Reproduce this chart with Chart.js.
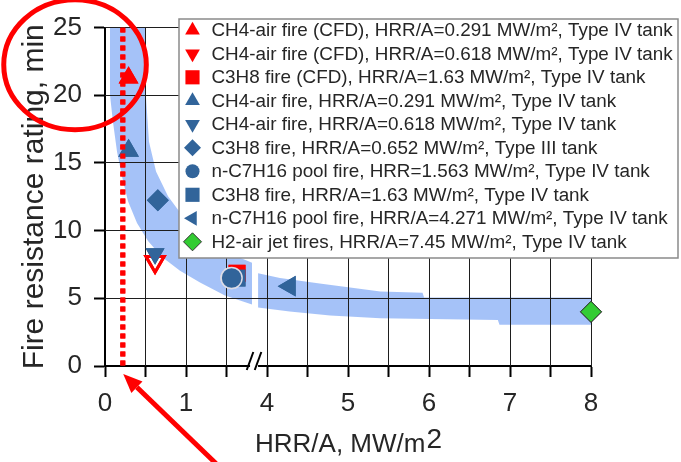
<!DOCTYPE html>
<html>
<head>
<meta charset="utf-8">
<script src="https://cdn.jsdelivr.net/npm/chart.js@4.4.1/dist/chart.umd.min.js"></script>
<style>
html,body{margin:0;padding:0;background:#ffffff;overflow:hidden}
canvas{display:block}
</style>
</head>
<body>
<canvas id="chart" width="681" height="462"></canvas>
<script>
// ---------------- data ----------------
const seriesLabels = [
  'CH4-air fire (CFD), HRR/A=0.291 MW/m\u00B2, Type IV tank',
  'CH4-air fire (CFD), HRR/A=0.618 MW/m\u00B2, Type IV tank',
  'C3H8 fire (CFD), HRR/A=1.63 MW/m\u00B2, Type IV tank',
  'CH4-air fire, HRR/A=0.291 MW/m\u00B2, Type IV tank',
  'CH4-air fire, HRR/A=0.618 MW/m\u00B2, Type IV tank',
  'C3H8 fire, HRR/A=0.652 MW/m\u00B2, Type III tank',
  'n-C7H16 pool fire, HRR=1.563 MW/m\u00B2, Type IV tank',
  'C3H8 fire, HRR/A=1.63 MW/m\u00B2, Type IV tank',
  'n-C7H16 pool fire, HRR/A=4.271 MW/m\u00B2, Type IV tank',
  'H2-air jet fires, HRR/A=7.45 MW/m\u00B2, Type IV tank'
];
const seriesX = [0.291, 0.618, 1.63, 0.291, 0.618, 0.652, 1.563, 1.63, 4.28, 8.0];
const seriesY = [21.3, 7.7, 6.85, 15.9, 8.3, 12.25, 6.5, 6.5, 5.9, 4.0];

const xTickValues = [0, 1, 4, 5, 6, 7, 8];
const yTickValues = [0, 5, 10, 15, 20, 25];
const limitLineX = [0.22, 0.22];
const limitLineY = [25, 0];

// shaded band (two pieces either side of the axis break)
const bandLeftOuterX = [0.062, 0.494, 0.506, 0.543, 0.630, 0.778, 0.988, 1.235, 1.519, 1.815];
const bandLeftOuterY = [25, 25, 19.87, 16.57, 14.37, 12.54, 10.85, 9.46, 8.36, 7.62];
const bandLeftInnerX = [0.062, 0.099, 0.148, 0.210, 0.284, 0.395, 0.531, 0.704, 0.926, 1.173, 1.481, 1.815];
const bandLeftInnerY = [20.0, 18.0, 15.84, 14.0, 12.17, 10.56, 9.24, 8.06, 7.04, 6.16, 5.21, 4.55];
const bandRightOuterX = [3.89, 4.16, 4.65, 5.40, 5.92, 5.94, 8.0];
const bandRightOuterY = [6.85, 6.50, 6.10, 5.50, 5.42, 5.06, 5.06];
const bandRightInnerX = [3.89, 4.28, 4.78, 5.40, 6.85, 6.87, 8.0];
const bandRightInnerY = [4.33, 4.03, 3.74, 3.52, 3.40, 3.05, 3.05];

// ---------------- styling ----------------
const FONT = '"Liberation Sans", Arial, Helvetica, sans-serif';
const TEXT = '#262626';
const GRID = '#1e1e1e';
const RED = '#ff0000', BLUE = '#31649a', GREEN = '#33cc33';
const seriesStyle = [
  {shape: 'triangle', rot: 0,   fill: RED,   border: RED,   bw: 0,   r: 11.5, order: 3, lr: 8.5, lbw: 0},
  {shape: 'triangle', rot: 180, fill: 'rgba(255,255,255,0)', border: RED, bw: 3, r: 10.5, order: 3, lr: 8.5, lfill: RED, lbw: 0},
  {shape: 'rect',     rot: 0,   fill: RED,   border: RED,   bw: 0,   r: 12,   order: 3, lr: 10, lbw: 0},
  {shape: 'triangle', rot: 0,   fill: BLUE,  border: BLUE,  bw: 0,   r: 12,   order: 2, lr: 8.5, lbw: 0},
  {shape: 'triangle', rot: 180, fill: BLUE,  border: BLUE,  bw: 0,   r: 11,   order: 2, lr: 8.5, lbw: 0},
  {shape: 'rectRot',  rot: 0,   fill: BLUE,  border: BLUE,  bw: 0,   r: 11,   order: 2, lr: 8.5, lbw: 0},
  {shape: 'circle',   rot: 0,   fill: BLUE,  border: '#dcdce6', bw: 1.5, r: 10.5, order: 1, lr: 7, lbw: 0},
  {shape: 'rect',     rot: 0,   fill: BLUE,  border: BLUE,  bw: 0,   r: 12,   order: 2, lr: 10, lbw: 0},
  {shape: 'triangle', rot: -90, fill: BLUE,  border: BLUE,  bw: 0,   r: 12,   order: 2, lr: 8.5, lbw: 0},
  {shape: 'rectRot',  rot: 0,   fill: GREEN, border: '#333333', bw: 1, r: 10.5, order: 2, lr: 9, lbw: 1}
];

// broken x axis: real value -> axis position
const toAxis = v => (v < 3 ? v : v - 2);
const axisBreakAt = 1.84;

function polygon(ox, oy, ix, iy) {
  const pts = ox.map((x, i) => ({x: toAxis(x), y: oy[i]}));
  for (let i = ix.length - 1; i >= 0; i--) pts.push({x: toAxis(ix[i]), y: iy[i]});
  return pts;
}

const datasets = [];
datasets.push({
  type: 'line', label: 'limit', order: 0, clip: false,
  data: limitLineX.map((x, i) => ({x: toAxis(x), y: limitLineY[i]})),
  borderColor: RED, borderWidth: 5, borderDash: [5, 4], borderCapStyle: 'butt',
  pointRadius: 0, fill: false, tension: 0
});
seriesLabels.forEach((lab, i) => {
  const s = seriesStyle[i];
  datasets.push({
    type: 'scatter', label: lab, order: s.order, clip: false,
    data: [{x: toAxis(seriesX[i]), y: seriesY[i]}],
    pointStyle: s.shape, pointRotation: s.rot, pointRadius: s.r,
    backgroundColor: s.fill, borderColor: s.border, borderWidth: s.bw
  });
});
[[bandLeftOuterX, bandLeftOuterY, bandLeftInnerX, bandLeftInnerY],
 [bandRightOuterX, bandRightOuterY, bandRightInnerX, bandRightInnerY]].forEach((b, k) => {
  datasets.push({
    type: 'line', label: 'band' + k, order: 10,
    data: polygon(b[0], b[1], b[2], b[3]),
    borderWidth: 0, borderColor: 'rgba(0,0,0,0)', pointRadius: 0, tension: 0,
    fill: 'shape', backgroundColor: 'rgba(66,128,240,0.48)'
  });
});

function drawMarker(ctx, style, x, y, r, fill, border, bw) {
  ctx.save();
  ctx.fillStyle = fill; ctx.strokeStyle = border;
  if (bw > 0) ctx.lineWidth = bw;
  if (Chart.helpers && Chart.helpers.drawPoint) {
    Chart.helpers.drawPoint(ctx, {pointStyle: style.shape, rotation: style.rot, radius: r, borderWidth: bw}, x, y);
  }
  ctx.restore();
}

const decorPlugin = {
  id: 'decor',
  afterDatasetsDraw(chart) {
    // grid lines from the scales' own ticks (over the translucent band)
    const ctx = chart.ctx, xs = chart.scales.x, ys = chart.scales.y, ca = chart.chartArea;
    ctx.save();
    ctx.strokeStyle = GRID; ctx.lineWidth = 1;
    ctx.beginPath();
    xs.ticks.forEach(t => {
      if (t.value <= 0) return;
      const p = Math.round(xs.getPixelForValue(t.value) - 0.5) + 0.5;
      ctx.moveTo(p, ca.top); ctx.lineTo(p, ca.bottom);
    });
    ys.ticks.forEach(t => {
      if (t.value <= 0) return;
      const p = Math.round(ys.getPixelForValue(t.value) - 0.5) + 0.5;
      ctx.moveTo(ca.left, p); ctx.lineTo(ca.right, p);
    });
    ctx.stroke();
    ctx.restore();
    // markers and limit line back on top of the grid
    const metas = chart.getSortedVisibleDatasetMetas()
      .filter(m => !String(chart.data.datasets[m.index].label).startsWith('band'));
    for (let i = metas.length - 1; i >= 0; i--) metas[i].controller.draw();
  },
  afterDraw(chart) {
    const ctx = chart.ctx, xs = chart.scales.x, ys = chart.scales.y, ca = chart.chartArea;
    ctx.save();
    // axis break mark
    const xb = xs.getPixelForValue(axisBreakAt), yb = ys.getPixelForValue(0);
    ctx.fillStyle = '#ffffff';
    ctx.fillRect(xb - 4, yb - 2, 8, 4);
    ctx.strokeStyle = '#000000'; ctx.lineWidth = 2;
    [-4, 4].forEach(d => {
      ctx.beginPath(); ctx.moveTo(xb + d - 3.3, yb + 4); ctx.lineTo(xb + d + 3.3, yb - 14); ctx.stroke();
    });

    // legend box
    const L = {left: 179, top: 19, right: 678, bottom: 258};
    ctx.fillStyle = '#ffffff';
    ctx.fillRect(L.left, L.top, L.right - L.left, L.bottom - L.top);
    ctx.strokeStyle = '#8a8a8a'; ctx.lineWidth = 1.5;
    ctx.strokeRect(L.left, L.top, L.right - L.left, L.bottom - L.top);
    ctx.textBaseline = 'middle'; ctx.textAlign = 'left';
    seriesLabels.forEach((lab, i) => {
      const s = seriesStyle[i];
      const y = L.top + 11.3 + i * 23.5;
      drawMarker(ctx, s, L.left + 13.5, y, s.lr, s.lfill || s.fill, s.border, s.lbw);
      ctx.font = '18.85px ' + FONT;
      ctx.fillStyle = TEXT;
      ctx.fillText(lab, L.left + 32.5, y + 0.5);
    });

    // x axis title with raised "2"
    ctx.fillStyle = TEXT;
    ctx.textBaseline = 'alphabetic';
    ctx.font = '26px ' + FONT;
    const t1 = 'HRR/A, MW/m';
    const w1 = ctx.measureText(t1).width;
    ctx.font = '28px ' + FONT;
    const w2 = ctx.measureText('2').width;
    const x0 = (ca.left + ca.right) / 2 - (w1 + w2) / 2;
    ctx.font = '26px ' + FONT;
    ctx.fillText(t1, x0, 452);
    ctx.font = '28px ' + FONT;
    ctx.fillText('2', x0 + w1 + 1, 448);

    // red annotations: ellipse around y label, arrow to limit line
    ctx.strokeStyle = RED; ctx.fillStyle = RED; ctx.lineWidth = 5;
    const ecx = xs.getPixelForValue(-0.37), ecy = ys.getPixelForValue(22.25);
    const erx = xs.getPixelForValue(0.88) - xs.getPixelForValue(0);
    const ery = ys.getPixelForValue(0) - ys.getPixelForValue(4.8);
    ctx.beginPath(); ctx.ellipse(ecx, ecy, erx, ery, 0, 0, Math.PI * 2); ctx.stroke();

    const tx = xs.getPixelForValue(0.225), ty = ys.getPixelForValue(-0.6);
    const sx = xs.getPixelForValue(1.37), sy = ys.getPixelForValue(-7.2);
    const ang = Math.atan2(ty - sy, tx - sx);
    const hl = 19, hw = 8;
    const bx = tx - Math.cos(ang) * hl, by = ty - Math.sin(ang) * hl;
    ctx.beginPath(); ctx.moveTo(sx, sy); ctx.lineTo(bx, by); ctx.stroke();
    ctx.beginPath();
    ctx.moveTo(tx, ty);
    ctx.lineTo(bx + Math.sin(ang) * hw, by - Math.cos(ang) * hw);
    ctx.lineTo(bx - Math.sin(ang) * hw, by + Math.cos(ang) * hw);
    ctx.closePath(); ctx.fill();
    ctx.restore();
  }
};

new Chart(document.getElementById('chart'), {
  type: 'scatter',
  data: {datasets},
  options: {
    responsive: false, animation: false, devicePixelRatio: 1, events: [],
    layout: {padding: {left: 0, top: 25, right: 90, bottom: 0}},
    plugins: {legend: {display: false}, tooltip: {enabled: false}},
    scales: {
      x: {
        type: 'linear', min: 0, max: 6,
        afterBuildTicks: s => { const t = []; for (let v = 0; v <= 6.0001; v += 0.5) t.push({value: v}); s.ticks = t; },
        ticks: {
          autoSkip: false, maxRotation: 0, minRotation: 0, padding: 11, color: TEXT,
          font: {size: 26, family: FONT},
          callback: v => {
            const k = xTickValues.findIndex(t => Math.abs(toAxis(t) - v) < 1e-6);
            return k >= 0 ? String(xTickValues[k]) : '';
          }
        },
        grid: {color: GRID, lineWidth: 1, tickLength: 11, tickWidth: 2, tickColor: '#000000'},
        border: {color: '#000000', width: 2},
        afterFit: s => { s.height = 96; }
      },
      y: {
        type: 'linear', min: 0, max: 25,
        afterBuildTicks: s => { s.ticks = yTickValues.map(v => ({value: v})); },
        ticks: {padding: 12, color: TEXT, font: {size: 26, family: FONT}},
        grid: {color: GRID, lineWidth: 1, tickLength: 11, tickWidth: 2, tickColor: '#000000'},
        border: {color: '#000000', width: 2},
        title: {display: true, text: 'Fire resistance rating, min', color: TEXT,
                font: {size: 30, family: FONT}, padding: {top: 17, bottom: 0}},
        afterFit: s => { s.width = 105; }
      }
    }
  },
  plugins: [decorPlugin]
});
</script>
</body>
</html>
